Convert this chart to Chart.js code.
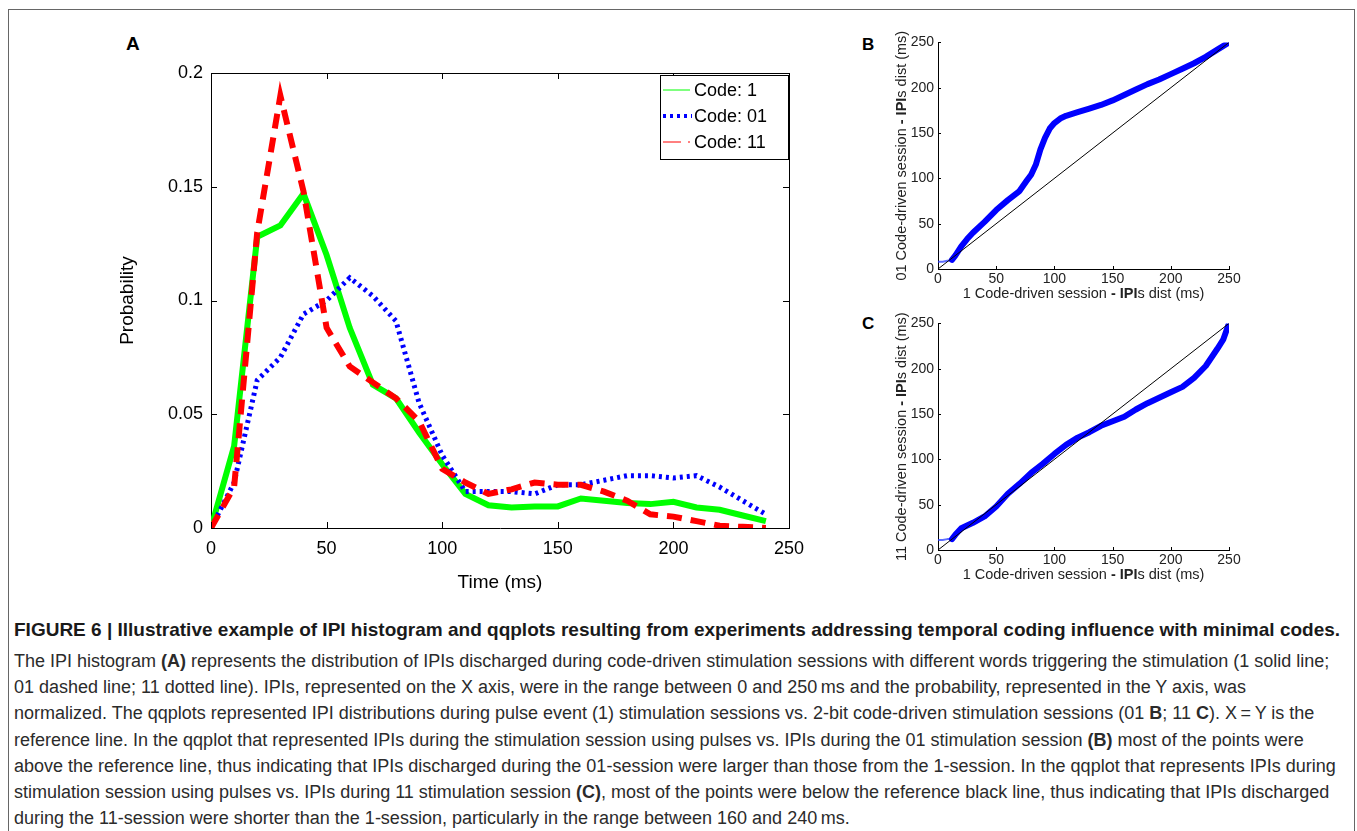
<!DOCTYPE html>
<html lang="en">
<head>
    <meta charset="UTF-8">
    <title>Figure 6 - IPI histogram and qqplots</title>
    <script src="https://cdn.jsdelivr.net/npm/chart.js"></script>
    <style>
        body {
            margin: 0;
            background: #fff;
            font-family: "Liberation Sans", Arial, sans-serif;
        }
        .frame {
            position: absolute;
            left: 8px;
            top: 9px;
            width: 1345px;
            height: 830px;
            border: 1px solid #666;
            border-bottom: none;
        }
        .box {
            position: absolute;
        }
        .panel-label {
            position: absolute;
            font-weight: bold;
            color: #000;
        }
        .caption {
            position: absolute;
            left: 14px;
            color: #2b2b2b;
            white-space: nowrap;
        }
        .caption .ttl {
            position: absolute;
            top: 617px;
            left: 0;
            font-size: 19px;
            font-weight: bold;
            line-height: 26px;
            color: #1a1a1a;
        }
        .caption .txt {
            position: absolute;
            top: 648px;
            left: 0;
            font-size: 18px;
            line-height: 26.2px;
        }
    </style>
</head>
<body>
    <div class="frame"></div>

    <div class="panel-label" style="left:126px; top:33px; font-size:19px;">A</div>
    <div class="panel-label" style="left:862px; top:35px; font-size:17px;">B</div>
    <div class="panel-label" style="left:862px; top:314px; font-size:17px;">C</div>

    <div class="box" style="left:100px; top:30px;"><canvas id="chartA" width="720" height="570"></canvas></div>
    <div class="box" style="left:880px; top:30px;"><canvas id="chartB" width="370" height="280"></canvas></div>
    <div class="box" style="left:880px; top:311px;"><canvas id="chartC" width="370" height="280"></canvas></div>

    <div class="caption" style="top:0;">
        <div class="ttl">FIGURE 6 | Illustrative example of IPI histogram and qqplots resulting from experiments addressing temporal coding influence with minimal codes.</div>
        <div class="txt">
            The IPI histogram <b>(A)</b> represents the distribution of IPIs discharged during code-driven stimulation sessions with different words triggering the stimulation (1 solid line;<br>
            01 dashed line; 11 dotted line). IPIs, represented on the X axis, were in the range between 0 and 250&thinsp;ms and the probability, represented in the Y axis, was<br>
            normalized. The qqplots represented IPI distributions during pulse event (1) stimulation sessions vs. 2-bit code-driven stimulation sessions (01 <b>B</b>; 11 <b>C</b>). X&thinsp;=&thinsp;Y is the<br>
            reference line. In the qqplot that represented IPIs during the stimulation session using pulses vs. IPIs during the 01 stimulation session <b>(B)</b> most of the points were<br>
            above the reference line, thus indicating that IPIs discharged during the 01-session were larger than those from the 1-session. In the qqplot that represents IPIs during<br>
            stimulation session using pulses vs. IPIs during 11 stimulation session <b>(C)</b>, most of the points were below the reference black line, thus indicating that IPIs discharged<br>
            during the 11-session were shorter than the 1-session, particularly in the range between 160 and 240&thinsp;ms.
        </div>
    </div>

    <script>
        // ---- data: IPI histogram (A) ----
        const timeMs = [0, 10, 20, 30, 40, 50, 60, 70, 80, 90, 100, 110, 120, 130, 140, 150, 160, 170, 180, 190, 200, 210, 220, 230, 240];
        const code1Prob = [0, 0.036, 0.128, 0.133, 0.147, 0.12, 0.088, 0.063, 0.057, 0.042, 0.028, 0.015, 0.01, 0.009, 0.0095, 0.0095, 0.013, 0.012, 0.011, 0.0105, 0.0115, 0.009, 0.008, 0.0055, 0.003];
        const code01Prob = [0, 0.02, 0.065, 0.075, 0.094, 0.1, 0.11, 0.102, 0.091, 0.055, 0.032, 0.016, 0.016, 0.016, 0.015, 0.019, 0.019, 0.021, 0.023, 0.023, 0.022, 0.023, 0.018, 0.012, 0.006];
        const code11Prob = [0, 0.018, 0.13, 0.19, 0.148, 0.088, 0.071, 0.064, 0.057, 0.047, 0.026, 0.02, 0.015, 0.017, 0.02, 0.019, 0.019, 0.016, 0.012, 0.006, 0.005, 0.003, 0.001, 0.0005, 0];
        const probTicks = [0, 0.05, 0.1, 0.15, 0.2];
        const timeTicks = [0, 50, 100, 150, 200, 250];
        const seriesNames = ['Code: 1', 'Code: 01', 'Code: 11'];

        // ---- data: qqplots (B, C) ----
        const qqBx = [0, 4, 8, 12, 15, 20, 25, 30, 40, 50, 60, 70, 76, 80, 84, 88, 92, 96, 100, 105, 110, 120, 130, 140, 150, 160, 170, 180, 190, 200, 210, 220, 230, 240, 250];
        const qqBy = [8, 8, 9, 10, 15, 25, 33, 40, 52, 65, 76, 86, 97, 104, 115, 132, 145, 155, 161, 166, 169, 173, 177, 181, 186, 192, 198, 204, 209, 215, 221, 227, 234, 242, 250];
        const qqCx = [0, 4, 8, 12, 15, 20, 30, 40, 50, 60, 70, 80, 90, 100, 110, 120, 130, 140, 150, 160, 170, 180, 190, 200, 210, 220, 230, 240, 245, 250];
        const qqCy = [11, 11, 12, 12, 17, 24, 30, 37, 48, 62, 73, 85, 95, 106, 116, 124, 130, 137, 142, 147, 155, 162, 168, 174, 180, 190, 203, 222, 232, 250];
        const refLine = [0, 250];
        const qqTicks = [0, 50, 100, 150, 200, 250];

        const fontFam = '"Liberation Sans", Arial, sans-serif';

        // inward matlab-style ticks, optional full box
        const matlabBox = {
            id: 'matlabBox',
            afterDatasetsDraw(chart, args, opts) {
                const ctx = chart.ctx, a = chart.chartArea;
                const xs = chart.scales.x, ys = chart.scales.y;
                const len = opts.len || 5;
                ctx.save();
                ctx.strokeStyle = '#000';
                ctx.lineWidth = 1;
                ctx.beginPath();
                xs.ticks.forEach(t => {
                    const px = Math.round(xs.getPixelForValue(t.value)) + 0.5;
                    ctx.moveTo(px, a.bottom); ctx.lineTo(px, a.bottom - len);
                    if (opts.box) { ctx.moveTo(px, a.top); ctx.lineTo(px, a.top + len); }
                });
                ys.ticks.forEach(t => {
                    const py = Math.round(ys.getPixelForValue(t.value)) + 0.5;
                    ctx.moveTo(a.left, py); ctx.lineTo(a.left + len, py);
                    if (opts.box) { ctx.moveTo(a.right, py); ctx.lineTo(a.right - len, py); }
                });
                if (opts.box) {
                    ctx.moveTo(a.left, a.top + 0.5); ctx.lineTo(a.right, a.top + 0.5);
                    ctx.moveTo(a.right + 0.5, a.top); ctx.lineTo(a.right + 0.5, a.bottom);
                }
                ctx.stroke();
                ctx.restore();
            }
        };

        // legend box inside panel A
        const legendA = {
            id: 'legendA',
            afterDraw(chart) {
                const ctx = chart.ctx, a = chart.chartArea;
                const w = 128, h = 84;
                const x0 = a.right - w - 1, y0 = a.top + 2;
                ctx.save();
                ctx.fillStyle = '#fff';
                ctx.fillRect(x0, y0, w, h);
                ctx.strokeStyle = '#000';
                ctx.lineWidth = 1;
                ctx.strokeRect(x0 + 0.5, y0 + 0.5, w, h);
                ctx.font = '18px ' + fontFam;
                ctx.fillStyle = '#000';
                ctx.textBaseline = 'middle';
                chart.data.datasets.forEach((ds, i) => {
                    const y = y0 + 15 + i * 26;
                    ctx.strokeStyle = ds.borderColor;
                    ctx.beginPath();
                    if (i === 0) {
                        ctx.lineWidth = 1;
                        ctx.moveTo(x0 + 3, y); ctx.lineTo(x0 + 30, y);
                    } else if (i === 1) {
                        ctx.lineWidth = 4;
                        ctx.setLineDash([3, 4]);
                        ctx.moveTo(x0 + 3, y); ctx.lineTo(x0 + 32, y);
                    } else {
                        ctx.lineWidth = 1;
                        ctx.moveTo(x0 + 3, y); ctx.lineTo(x0 + 21, y);
                        ctx.moveTo(x0 + 28, y); ctx.lineTo(x0 + 30, y);
                    }
                    ctx.stroke();
                    ctx.setLineDash([]);
                    ctx.fillText(ds.label, x0 + 34, y + 1);
                });
                ctx.restore();
            }
        };

        function drawRich(ctx, parts, cx, cy, rot, size) {
            ctx.save();
            ctx.translate(cx, cy);
            ctx.rotate(rot);
            ctx.textBaseline = 'middle';
            ctx.fillStyle = '#222';
            let total = 0;
            parts.forEach(p => {
                ctx.font = (p.bold ? 'bold ' : '') + size + 'px ' + fontFam;
                p.w = ctx.measureText(p.text).width;
                total += p.w;
            });
            let x = -total / 2;
            parts.forEach(p => {
                ctx.font = (p.bold ? 'bold ' : '') + size + 'px ' + fontFam;
                ctx.fillText(p.text, x, 0);
                x += p.w;
            });
            ctx.restore();
        }

        // axis titles with partly bold text (qqplots)
        const richTitles = {
            id: 'richTitles',
            afterDraw(chart, args, opts) {
                const a = chart.chartArea;
                drawRich(chart.ctx, opts.xParts, (a.left + a.right) / 2, a.bottom + opts.xOff, 0, 14.5);
                drawRich(chart.ctx, opts.yParts, a.left - opts.yOff, (a.top + a.bottom) / 2, -Math.PI / 2, 14.5);
            }
        };

        function setTicks(list) {
            return scale => { scale.ticks = list.map(v => ({ value: v })); };
        }

        // ---- panel A ----
        new Chart(document.getElementById('chartA'), {
            type: 'line',
            data: {
                labels: timeMs,
                datasets: [
                    {
                        label: seriesNames[0],
                        data: timeMs.map((t, i) => ({ x: t, y: code1Prob[i] })),
                        borderColor: '#00ff00',
                        borderWidth: 6,
                        pointRadius: 0,
                        tension: 0,
                        borderJoinStyle: 'miter',
                        order: 3
                    },
                    {
                        label: seriesNames[1],
                        data: timeMs.map((t, i) => ({ x: t, y: code01Prob[i] })),
                        borderColor: '#0000ff',
                        borderWidth: 5,
                        borderDash: [3, 4],
                        pointRadius: 0,
                        tension: 0,
                        order: 2
                    },
                    {
                        label: seriesNames[2],
                        data: timeMs.map((t, i) => ({ x: t, y: code11Prob[i] })),
                        borderColor: '#ff0000',
                        borderWidth: 6,
                        borderDash: [15, 9],
                        borderJoinStyle: 'miter',
                        pointRadius: 0,
                        tension: 0,
                        order: 1
                    }
                ]
            },
            options: {
                responsive: false,
                animation: false,
                devicePixelRatio: 1,
                layout: { padding: { left: 0, right: 31, top: 43, bottom: 0 } },
                plugins: {
                    legend: { display: false },
                    tooltip: { enabled: false },
                    matlabBox: { box: true, len: 6 }
                },
                scales: {
                    x: {
                        type: 'linear',
                        min: 0,
                        max: 250,
                        afterBuildTicks: setTicks(timeTicks),
                        afterFit: s => { s.height = 72; },
                        grid: { drawOnChartArea: false, drawTicks: false },
                        border: { display: true, color: '#000', width: 1 },
                        ticks: { color: '#000', padding: 10, font: { family: fontFam, size: 18 } },
                        title: { display: true, text: 'Time (ms)', color: '#000', padding: { bottom: 6 }, font: { family: fontFam, size: 19 } }
                    },
                    y: {
                        min: 0,
                        max: 0.2,
                        afterBuildTicks: setTicks(probTicks),
                        afterFit: s => { s.width = 111; },
                        grid: { drawOnChartArea: false, drawTicks: false },
                        border: { display: true, color: '#000', width: 1 },
                        ticks: { color: '#000', padding: 8, font: { family: fontFam, size: 18 }, callback: v => String(v) },
                        title: { display: true, text: 'Probability', color: '#000', padding: { top: 16 }, font: { family: fontFam, size: 19 } }
                    }
                }
            },
            plugins: [matlabBox, legendA]
        });

        // ---- panels B and C ----
        function qqChart(id, xs, ys, yLead) {
            return new Chart(document.getElementById(id), {
                type: 'scatter',
                data: {
                    datasets: [
                        {
                            data: refLine.map(v => ({ x: v, y: v })),
                            showLine: true,
                            borderColor: '#000',
                            borderWidth: 1,
                            pointRadius: 0,
                            order: 1
                        },
                        {
                            data: xs.map((x, i) => ({ x: x, y: ys[i] })),
                            showLine: true,
                            borderColor: '#0000ff',
                            borderWidth: 6,
                            borderCapStyle: 'round',
                            borderJoinStyle: 'round',
                            pointRadius: 0,
                            segment: {
                                borderWidth: c => c.p0.parsed.x < 12 ? 2 : 6,
                                borderColor: c => c.p0.parsed.x < 12 ? 'rgba(40,60,255,0.75)' : '#0000ff'
                            },
                            order: 2
                        }
                    ]
                },
                options: {
                    responsive: false,
                    animation: false,
                    devicePixelRatio: 1,
                    layout: { padding: { left: 0, right: 21, top: 11, bottom: 0 } },
                    plugins: {
                        legend: { display: false },
                        tooltip: { enabled: false },
                        matlabBox: { box: false, len: 3 },
                        richTitles: {
                            xOff: 25,
                            yOff: 36,
                            xParts: [{ text: '1 Code-driven session ' }, { text: '- IPI', bold: true }, { text: 's dist (ms)' }],
                            yParts: [{ text: yLead + ' Code-driven session ' }, { text: '- IPI', bold: true }, { text: 's dist (ms)' }]
                        }
                    },
                    scales: {
                        x: {
                            type: 'linear',
                            min: 0,
                            max: 250,
                            afterBuildTicks: setTicks(qqTicks),
                            afterFit: s => { s.height = 41; },
                            grid: { drawOnChartArea: false, drawTicks: false },
                            border: { display: true, color: '#000', width: 1 },
                            ticks: { color: '#222', padding: 2, font: { family: fontFam, size: 14 } }
                        },
                        y: {
                            type: 'linear',
                            min: 0,
                            max: 250,
                            afterBuildTicks: setTicks(qqTicks),
                            afterFit: s => { s.width = 58; },
                            grid: { drawOnChartArea: false, drawTicks: false },
                            border: { display: true, color: '#000', width: 1 },
                            ticks: { color: '#222', padding: 4, font: { family: fontFam, size: 14 } }
                        }
                    }
                },
                plugins: [matlabBox, richTitles]
            });
        }

        qqChart('chartB', qqBx, qqBy, '01');
        qqChart('chartC', qqCx, qqCy, '11');
    </script>
</body>
</html>
